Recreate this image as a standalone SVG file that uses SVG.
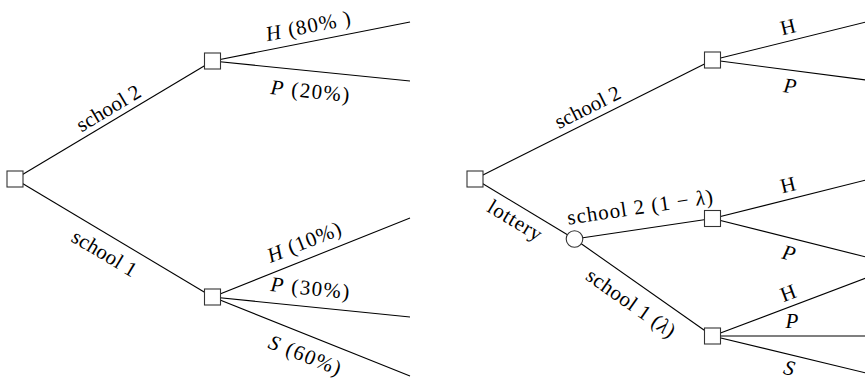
<svg xmlns="http://www.w3.org/2000/svg" width="865" height="381" viewBox="0 0 865 381">
<style>
.e{stroke:#000;stroke-width:1.1;fill:none}
.n{fill:#fff;stroke:#333;stroke-width:1.1}
.t{font-size:21px;fill:#000;text-anchor:middle}
.i{font-style:italic}
</style>
<rect width="865" height="381" fill="#fff"/>
<g id="connectors">
<line class="e" x1="15" y1="179" x2="212.5" y2="61"/>
<line class="e" x1="15" y1="179" x2="212.5" y2="297"/>
<line class="e" x1="212.5" y1="61" x2="410" y2="22"/>
<line class="e" x1="212.5" y1="61" x2="410" y2="81"/>
<line class="e" x1="212.5" y1="297" x2="410" y2="218"/>
<line class="e" x1="212.5" y1="297" x2="410" y2="317"/>
<line class="e" x1="212.5" y1="297" x2="410" y2="376"/>
<line class="e" x1="475" y1="179" x2="712.5" y2="60"/>
<line class="e" x1="475" y1="179" x2="574.5" y2="239"/>
<line class="e" x1="574.5" y1="239" x2="712.5" y2="218.5"/>
<line class="e" x1="574.5" y1="239" x2="712.5" y2="336"/>
<line class="e" x1="712.5" y1="60" x2="866" y2="22"/>
<line class="e" x1="712.5" y1="60" x2="866" y2="80"/>
<line class="e" x1="712.5" y1="218.5" x2="866" y2="180"/>
<line class="e" x1="712.5" y1="218.5" x2="866" y2="257"/>
<line class="e" x1="712.5" y1="336" x2="866" y2="278"/>
<line class="e" x1="712.5" y1="336" x2="866" y2="336"/>
<line class="e" x1="712.5" y1="336" x2="866" y2="373"/>
</g>
<g id="edge-labels" class="t" font-family="'Liberation Serif', 'DejaVu Serif', 'Noto Serif', 'CMU Serif', 'Latin Modern Roman', 'FreeSerif', 'Nimbus Roman', 'Tinos', serif">
<text transform="translate(109,109) rotate(-30.9)" y="6" textLength="71" lengthAdjust="spacing">school 2</text>
<text transform="translate(308,26) rotate(-11.2)" y="7" textLength="86" lengthAdjust="spacing"><tspan class="i">H</tspan> (80% )</text>
<text transform="translate(310,91) rotate(5.8)" y="7" textLength="79" lengthAdjust="spacing"><tspan class="i">P</tspan> (20%)</text>
<text transform="translate(104,254) rotate(30.9)" y="6" textLength="72" lengthAdjust="spacing">school 1</text>
<text transform="translate(304,242) rotate(-21.8)" y="7" textLength="78" lengthAdjust="spacing"><tspan class="i">H</tspan> (10%)</text>
<text transform="translate(310,288) rotate(5.8)" y="7" textLength="79" lengthAdjust="spacing"><tspan class="i">P</tspan> (30%)</text>
<text transform="translate(305,355) rotate(21.8)" y="7" textLength="76" lengthAdjust="spacing"><tspan class="i">S</tspan> (60%)</text>
<text transform="translate(588,108) rotate(-26.6)" y="6" textLength="71" lengthAdjust="spacing">school 2</text>
<text transform="translate(788,27) rotate(-13.9)" y="7">H</text>
<text class="i" transform="translate(790,86) rotate(7.4)" y="7">P</text>
<text transform="translate(514,222) rotate(31.1)" y="5" textLength="60" lengthAdjust="spacing">lottery</text>
<text transform="translate(640,207) rotate(-8.4)" y="7" textLength="147" lengthAdjust="spacing">school 2 (1 − <tspan class="i">λ</tspan>)</text>
<text transform="translate(631,303) rotate(35.1)" y="7" textLength="104" lengthAdjust="spacing">school 1 (<tspan class="i">λ</tspan>)</text>
<text transform="translate(788,185) rotate(-13.7)" y="7">H</text>
<text class="i" transform="translate(789,253) rotate(14)" y="7">P</text>
<text transform="translate(788,293) rotate(-20.8)" y="7">H</text>
<text class="i" transform="translate(792,321)" y="7">P</text>
<text class="i" transform="translate(789,369) rotate(13.6)" y="6">S</text>
</g>
<g id="n-root-left"><rect class="n" x="7" y="171" width="16" height="16"/></g>
<g id="n-school2-left"><rect class="n" x="204.5" y="53" width="16" height="16"/></g>
<g id="n-school1-left"><rect class="n" x="204.5" y="289" width="16" height="16"/></g>
<g id="n-root-right"><rect class="n" x="467" y="171" width="16" height="16"/></g>
<g id="n-school2-right"><rect class="n" x="704.5" y="52" width="16" height="16"/></g>
<g id="n-lottery"><circle class="n" cx="574.5" cy="239" r="8.3"/></g>
<g id="n-lottery-school2"><rect class="n" x="704.5" y="210.5" width="16" height="16"/></g>
<g id="n-lottery-school1"><rect class="n" x="704.5" y="328" width="16" height="16"/></g>
</svg>
